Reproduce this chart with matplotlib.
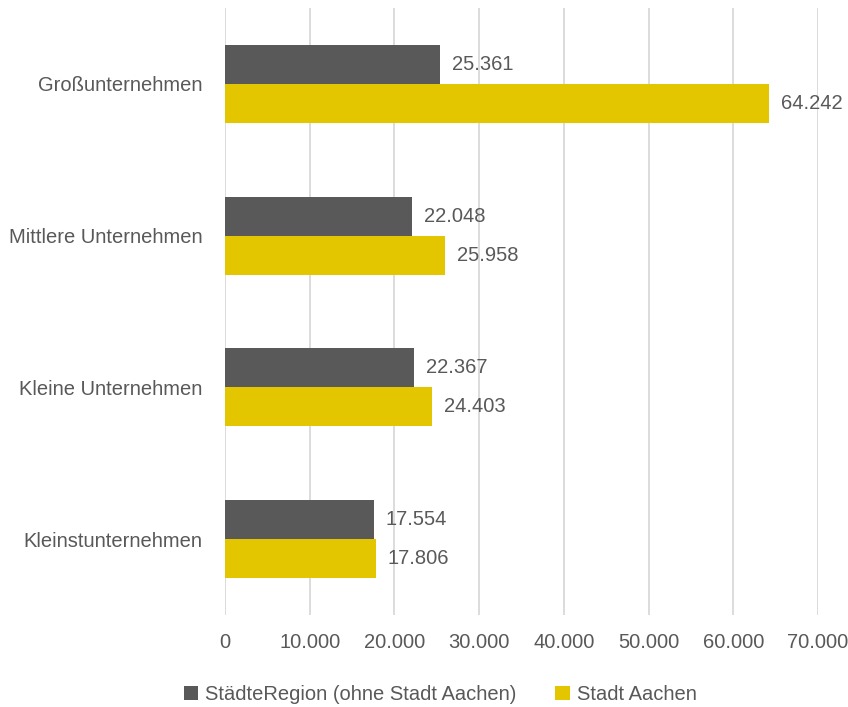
import matplotlib.pyplot as plt
import numpy as np

categories = ["Großunternehmen", "Mittlere Unternehmen", "Kleine Unternehmen", "Kleinstunternehmen"]
region = [25361, 22048, 22367, 17554]
aachen = [64242, 25958, 24403, 17806]
series_names = ["StädteRegion (ohne Stadt Aachen)", "Stadt Aachen"]

plt.rcParams["font.family"] = ["Liberation Sans", "DejaVu Sans"]

txt = "#595959"
dark = "#595959"
gold = "#E3C500"
fs = 14.5


def fmt(v):
    return f"{v:,}".replace(",", ".")


fig = plt.figure(figsize=(8.48, 7.07), dpi=100)
ax = fig.add_axes([0.2653, 0.1301, 0.6993, 0.8586])

y = np.arange(len(categories))
h = 0.257
b1 = ax.barh(y - h / 2, region, height=h, color=dark, label=series_names[0], zorder=3)
b2 = ax.barh(y + h / 2, aachen, height=h, color=gold, label=series_names[1], zorder=3)

for bars, vals in ((b1, region), (b2, aachen)):
    for bar, v in zip(bars, vals):
        ax.text(v + 1400, bar.get_y() + bar.get_height() / 2, fmt(v),
                va="center", ha="left", fontsize=fs, color=txt)

ax.set_xlim(0, 70000)
ax.set_ylim(3.5, -0.5)
ax.set_xticks(range(0, 70001, 10000))
ax.set_xticklabels([fmt(v) for v in range(0, 70001, 10000)])
ax.set_yticks(y)
ax.set_yticklabels(categories)
ax.tick_params(axis="both", length=0, labelsize=fs, colors=txt)
ax.tick_params(axis="x", pad=13)
ax.tick_params(axis="y", pad=16)
ax.grid(axis="x", color="#d9d9d9", linewidth=1.3, zorder=0)
for s in ax.spines.values():
    s.set_visible(False)

fig.legend(loc="lower center", bbox_to_anchor=(0.519, -0.021), ncol=2, frameon=False,
           fontsize=fs, labelcolor=txt, handlelength=0.7, handleheight=0.7,
           handletextpad=0.35, columnspacing=1.95)

fig.savefig("out.png", dpi=100)
